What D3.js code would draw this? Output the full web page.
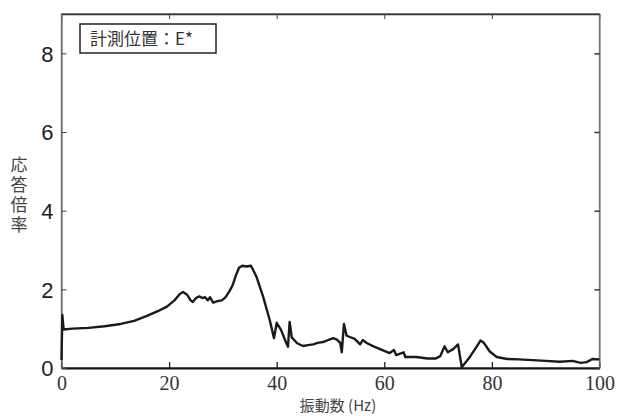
<!DOCTYPE html>
<html>
<head>
<meta charset="utf-8">
<script src="https://cdn.jsdelivr.net/npm/d3@7"></script>
<style>
  body { margin: 0; background: #fff; }
  svg { display: block; }
</style>
</head>
<body>
<div id="chart"></div>
<script>
// frequency (Hz) and response ratio
var freq = [0, 0.15, 0.4, 2, 5, 8, 11, 13.5, 16, 18, 19.6, 21, 22, 22.6, 23.3, 24, 24.4, 25, 25.6, 26.2,
  26.7, 27.2, 27.6, 28.2, 29, 29.8, 30.5, 31.2, 31.8, 32.4, 33, 33.6, 34.4, 35.2, 35.6, 36.3, 37.5, 38.7,
  39.5, 40.0, 40.8, 41.7, 42.1, 42.4, 42.8, 43.8, 44.9, 45.8, 46.8, 47.6, 48.6, 49.4, 50.5, 51.2, 51.8,
  52.1, 52.5, 53.0, 54.5, 55.5, 56, 56.8, 58, 59.2, 61, 61.8, 62.2, 63.6, 63.9, 66, 68, 69.5, 70.4, 71.2,
  71.8, 72.8, 73.7, 74.4, 76, 77.2, 77.9, 78.5, 79.6, 80.9, 82.8, 85, 87.6, 90, 92.6, 95, 96.5, 97.6, 98.7, 100];
var ratio = [0.2, 1.35, 0.98, 1.0, 1.02, 1.06, 1.12, 1.2, 1.33, 1.45, 1.56, 1.72, 1.88, 1.93, 1.87, 1.72, 1.68, 1.78, 1.82, 1.78,
  1.8, 1.72, 1.8, 1.66, 1.7, 1.72, 1.8, 1.95, 2.1, 2.35, 2.55, 2.6, 2.58, 2.6, 2.5, 2.3, 1.8, 1.22,
  0.76, 1.15, 0.97, 0.66, 0.54, 1.17, 0.78, 0.63, 0.56, 0.58, 0.6, 0.64, 0.66, 0.7, 0.76, 0.72, 0.64,
  0.4, 1.12, 0.82, 0.74, 0.6, 0.71, 0.63, 0.55, 0.48, 0.38, 0.46, 0.33, 0.4, 0.28, 0.28, 0.24, 0.24, 0.3, 0.55,
  0.4, 0.48, 0.6, 0.02, 0.3, 0.55, 0.7, 0.64, 0.42, 0.28, 0.23, 0.22, 0.2, 0.18, 0.16, 0.18, 0.13, 0.15, 0.23, 0.22];

var xTicks = [0, 20, 40, 60, 80, 100];
var yTicks = [0, 2, 4, 6, 8];
var xTitle = "振動数 (Hz)";
var yTitle = "応答倍率";
var legendText = "計測位置：E*";

var width = 621, height = 416;
var padL = 61.5, padR = 599.5, padT = 14, padB = 368;

var svg = d3.select("#chart").append("svg")
  .attr("width", width)
  .attr("height", height);

var x = d3.scaleLinear().domain([0, 100]).range([padL, padR]);
var y = d3.scaleLinear().domain([0, 9]).range([padB, padT]);

// frame
svg.append("rect")
  .attr("x", padL).attr("y", padT)
  .attr("width", padR - padL).attr("height", padB - padT)
  .attr("fill", "none").attr("stroke", "#555").attr("stroke-width", 1.3);

// inward ticks, all four sides
var xAx = svg.append("g").attr("transform", "translate(0," + padB + ")")
  .call(d3.axisBottom(x).tickValues(xTicks).tickSizeInner(-6).tickSizeOuter(0).tickFormat(d3.format("d")));
xAx.select(".domain").attr("stroke", "#111").attr("stroke-width", 2);
xAx.selectAll(".tick line").attr("stroke", "#222").attr("stroke-width", 1.3);
xAx.selectAll("text").attr("dy", 0).attr("y", 22)
  .style("font-family", "'Liberation Serif', 'DejaVu Serif', serif").style("font-size", "20px").attr("fill", "#333");

var xTop = svg.append("g").attr("transform", "translate(0," + padT + ")")
  .call(d3.axisTop(x).tickValues(xTicks).tickSizeInner(-5).tickSizeOuter(0).tickFormat(""));
xTop.select(".domain").attr("stroke", "#333").attr("stroke-width", 1.6);
xTop.selectAll(".tick line").attr("stroke", "#444");

var yAx = svg.append("g").attr("transform", "translate(" + padL + ",0)")
  .call(d3.axisLeft(y).tickValues(yTicks).tickSizeInner(-5).tickSizeOuter(0).tickFormat(d3.format("d")));
yAx.select(".domain").attr("stroke", "#777").attr("stroke-width", 1.3);
yAx.selectAll(".tick line").attr("stroke", "#444");
yAx.selectAll("text").attr("x", -8).attr("dy", "0.36em")
  .style("font-family", "'Liberation Sans', Arial, sans-serif").style("font-size", "22px").attr("fill", "#222");

var yRight = svg.append("g").attr("transform", "translate(" + padR + ",0)")
  .call(d3.axisRight(y).tickValues(yTicks).tickSizeInner(-5).tickSizeOuter(0).tickFormat(""));
yRight.select(".domain").attr("stroke", "#888").attr("stroke-width", 1.2);
yRight.selectAll(".tick line").attr("stroke", "#333").attr("stroke-width", 1.5);

// response curve
var pts = freq.map(function(f, i) { return [f, ratio[i]]; });
var line = d3.line()
  .x(function(d) { return x(d[0]); })
  .y(function(d) { return y(d[1]); });

svg.append("path")
  .datum(pts)
  .attr("d", line)
  .attr("fill", "none")
  .attr("stroke", "#1a1a1a")
  .attr("stroke-width", 2.4)
  .attr("stroke-linejoin", "round");

// legend box
svg.append("rect")
  .attr("x", 80).attr("y", 24).attr("width", 136).attr("height", 29)
  .attr("fill", "#fff").attr("stroke", "#222").attr("stroke-width", 1.5);
svg.append("text")
  .attr("x", 90).attr("y", 45)
  .style("font-family", "'Noto Sans CJK JP', sans-serif").style("font-size", "17px")
  .attr("fill", "#333")
  .text(legendText);

// axis titles
svg.append("text")
  .attr("x", 338).attr("y", 411)
  .attr("text-anchor", "middle")
  .style("font-family", "'Noto Sans CJK JP', sans-serif").style("font-size", "15px")
  .attr("fill", "#444")
  .text(xTitle);

// vertical y title, one text element
svg.append("text")
  .attr("x", 19).attr("y", 156)
  .style("writing-mode", "vertical-rl")
  .style("text-orientation", "upright")
  .style("letter-spacing", "3px")
  .style("font-family", "'Noto Sans CJK JP', sans-serif").style("font-size", "17px")
  .attr("fill", "#444")
  .text(yTitle);
</script>
</body>
</html>
